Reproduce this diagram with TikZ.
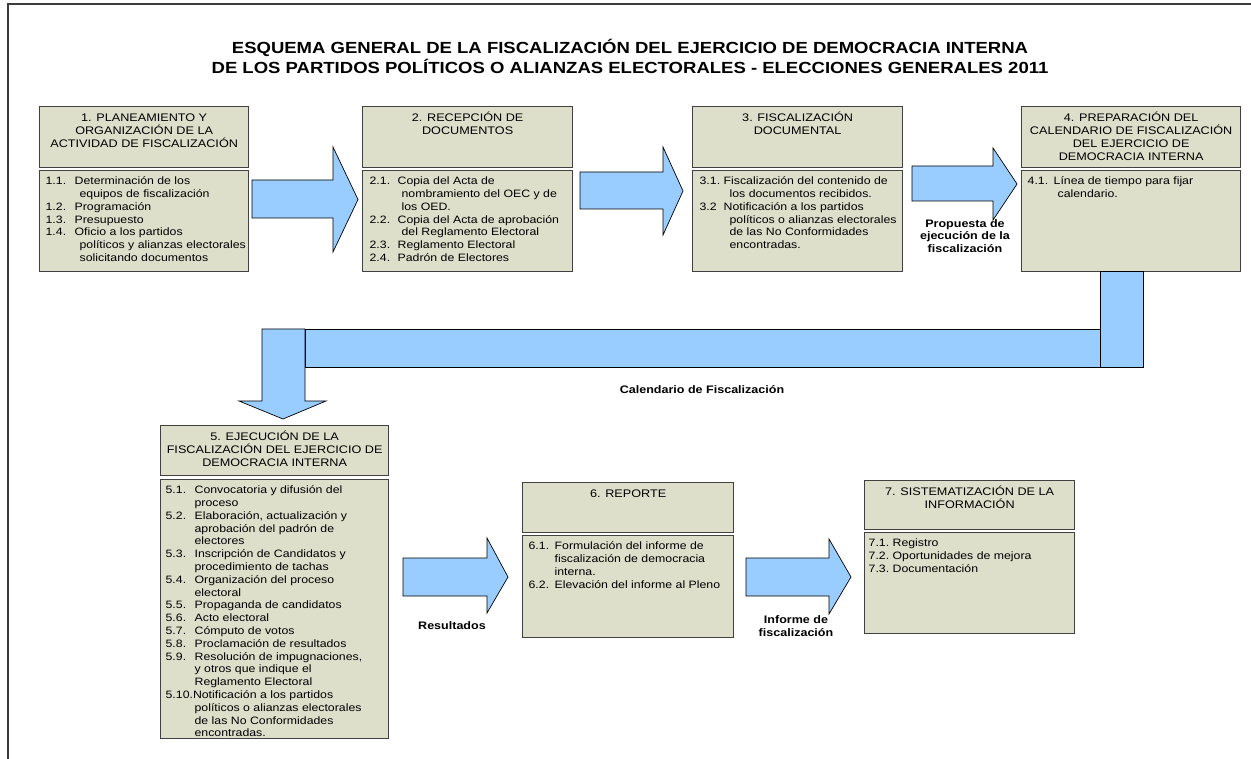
\documentclass[tikz,border=0pt]{standalone}
\usepackage{fontspec}
\setmainfont{Liberation Sans}[FakeStretch=1.15]
\definecolor{boxfill}{RGB}{221,223,203}
\definecolor{boxline}{RGB}{65,65,65}
\definecolor{arrowblue}{RGB}{153,204,255}
\definecolor{framegray}{RGB}{60,60,60}
\newlength\pd \newlength\nw \newlength\cw
\newcommand{\boxset}[3]{\setlength\pd{#1pt}\setlength\nw{#2pt}\setlength\cw{#3pt}}
\newcommand{\itm}[2]{\mbox{\hspace*{\pd}\makebox[\nw][l]{#1}#2}}
\newcommand{\cnt}[1]{\mbox{\hspace*{\pd}\hspace*{\cw}#1}}
\newcommand{\hdrbox}[3]{\parbox[c][#2pt][t]{#1pt}{\centering\fontsize{11}{13}\selectfont\rule{0pt}{14.5pt}#3}}
\newcommand{\itmbox}[4]{\parbox[c][#2pt][t]{#1pt}{\raggedright\fontsize{10.7}{12.8}\selectfont#3\rule{0pt}{14pt}#4}}
\tikzset{
  blk/.style={draw=boxline, fill=boxfill, line width=1.3pt, inner sep=0pt, anchor=north west},
  barrow/.style={draw=black, fill=arrowblue, line width=0.7pt, line join=miter},
  lbl/.style={font=\fontsize{10.9}{12.8}\selectfont\bfseries, align=center, inner sep=0pt},
  ttl/.style={font=\fontsize{16.1}{20}\selectfont\bfseries, align=center, inner sep=0pt}
}
\begin{document}
\begin{tikzpicture}[x=1pt,y=-1pt]
\useasboundingbox (0,0) rectangle (1251,759);
\draw[framegray, line width=1.5pt] (8,759) -- (8,4) -- (1251,4);
\node[ttl] (title) at (630,56) {ESQUEMA GENERAL DE LA FISCALIZACIÓN DEL EJERCICIO DE DEMOCRACIA INTERNA\\DE LOS PARTIDOS POLÍTICOS O ALIANZAS ELECTORALES - ELECCIONES GENERALES 2011};

% row 1 boxes
\node[blk] (b1h) at (39,106) {\hdrbox{209}{61}{1. PLANEAMIENTO Y\\ORGANIZACIÓN DE LA\\ACTIVIDAD DE FISCALIZACIÓN}};
\node[blk] (b1i) at (39,170) {\itmbox{209}{101}{\boxset{6}{29}{34}}{%
\itm{1.1.}{Determinación de los}\\
\cnt{equipos de fiscalización}\\
\itm{1.2.}{Programación}\\
\itm{1.3.}{Presupuesto}\\
\itm{1.4.}{Oficio a los partidos}\\
\cnt{políticos y alianzas electorales}\\
\cnt{solicitando documentos}}};

\node[blk] (b2h) at (362,106) {\hdrbox{210}{61}{2. RECEPCIÓN DE\\DOCUMENTOS}};
\node[blk] (b2i) at (362,170) {\itmbox{210}{101}{\boxset{7}{28}{32}}{%
\itm{2.1.}{Copia del Acta de}\\
\cnt{nombramiento del OEC y de}\\
\cnt{los OED.}\\
\itm{2.2.}{Copia del Acta de aprobación}\\
\cnt{del Reglamento Electoral}\\
\itm{2.3.}{Reglamento Electoral}\\
\itm{2.4.}{Padrón de Electores}}};

\node[blk] (b3h) at (692,106) {\hdrbox{210}{61}{3. FISCALIZACIÓN\\DOCUMENTAL}};
\node[blk] (b3i) at (692,170) {\itmbox{210}{101}{\boxset{7}{24}{30}}{%
\itm{3.1.}{Fiscalización del contenido de}\\
\cnt{los documentos recibidos.}\\
\itm{3.2}{Notificación a los partidos}\\
\cnt{políticos o alianzas electorales}\\
\cnt{de las No Conformidades}\\
\cnt{encontradas.}}};

\node[blk] (b4h) at (1021,106) {\hdrbox{219}{61}{4. PREPARACIÓN DEL\\CALENDARIO DE FISCALIZACIÓN\\DEL EJERCICIO DE\\DEMOCRACIA INTERNA}};
\node[blk] (b4i) at (1021,170) {\itmbox{219}{101}{\boxset{6}{26}{30}}{%
\itm{4.1.}{Línea de tiempo para fijar}\\
\cnt{calendario.}}};

% row 1 arrows
\draw[barrow] (252,180) -- (333,180) -- (333,147) -- (358,199.5) -- (333,252) -- (333,218) -- (252,218) -- cycle;
\draw[barrow] (580,172) -- (663,172) -- (663,147) -- (683,191) -- (663,235) -- (663,209) -- (580,209) -- cycle;
\draw[barrow] (912,166) -- (993,166) -- (993,148) -- (1017,184) -- (993,220) -- (993,201) -- (912,201) -- cycle;
\node[lbl] (l1) at (965,236) {Propuesta de\\ejecución de la\\fiscalización};

% bent arrow
\draw[barrow] (1100,271) rectangle (1143,367);
\draw[barrow] (305,329) rectangle (1100,367);
\draw[barrow] (262,329) -- (305,329) -- (305,401) -- (326,401) -- (283,419) -- (239,401) -- (262,401) -- cycle;
\node[lbl] (l2) at (702,390) {Calendario de Fiscalización};

% row 2 boxes
\node[blk] (b5h) at (160,425) {\hdrbox{228}{50}{5. EJECUCIÓN DE LA\\FISCALIZACIÓN DEL EJERCICIO DE\\DEMOCRACIA INTERNA}};
\node[blk] (b5i) at (160,479) {\itmbox{228}{259}{\boxset{5}{29}{29}}{%
\itm{5.1.}{Convocatoria y difusión del}\\
\cnt{proceso}\\
\itm{5.2.}{Elaboración, actualización y}\\
\cnt{aprobación del padrón de}\\
\cnt{electores}\\
\itm{5.3.}{Inscripción de Candidatos y}\\
\cnt{procedimiento de tachas}\\
\itm{5.4.}{Organización del proceso}\\
\cnt{electoral}\\
\itm{5.5.}{Propaganda de candidatos}\\
\itm{5.6.}{Acto electoral}\\
\itm{5.7.}{Cómputo de votos}\\
\itm{5.8.}{Proclamación de resultados}\\
\itm{5.9.}{Resolución de impugnaciones,}\\
\cnt{y otros que indique el}\\
\cnt{Reglamento Electoral}\\
\mbox{\hspace*{\pd}5.10.Notificación a los partidos}\\
\cnt{políticos o alianzas electorales}\\
\cnt{de las No Conformidades}\\
\cnt{encontradas.}}};

\node[blk] (b6h) at (522,482) {\hdrbox{211}{50}{6. REPORTE}};
\node[blk] (b6i) at (522,535) {\itmbox{211}{102}{\boxset{6}{26}{26}}{%
\itm{6.1.}{Formulación del informe de}\\
\cnt{fiscalización de democracia}\\
\cnt{interna.}\\
\itm{6.2.}{Elevación del informe al Pleno}}};

\node[blk] (b7h) at (864,480) {\hdrbox{210}{49}{7. SISTEMATIZACIÓN DE LA\\INFORMACIÓN}};
\node[blk] (b7i) at (864,532) {\itmbox{210}{101}{\boxset{4}{24}{24}}{%
\itm{7.1.}{Registro}\\
\itm{7.2.}{Oportunidades de mejora}\\
\itm{7.3.}{Documentación}}};

% row 2 arrows
\draw[barrow] (403,558) -- (487,558) -- (487,538) -- (508,577) -- (487,613) -- (487,596) -- (403,596) -- cycle;
\node[lbl] (l3) at (452,626) {Resultados};
\draw[barrow] (746,558) -- (829,558) -- (829,539) -- (851,577) -- (829,614) -- (829,596) -- (746,596) -- cycle;
\node[lbl] (l4) at (796,626) {Informe de\\fiscalización};
\end{tikzpicture}
\end{document}
